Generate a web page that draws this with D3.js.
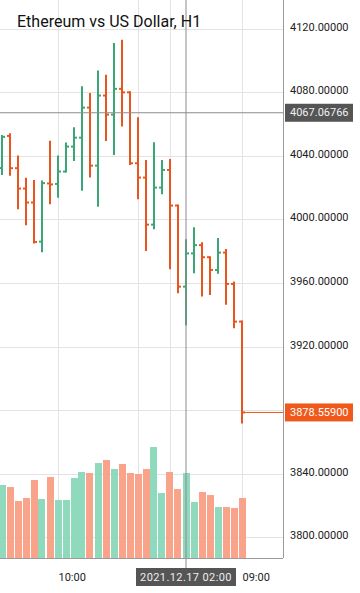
<!DOCTYPE html>
<html><head><meta charset="utf-8">
<script src="https://cdn.jsdelivr.net/npm/d3@7"></script>
<style>
body{margin:0;background:#fff}
svg{display:block}
text{font-family:Roboto,"Noto Sans",sans-serif}
</style>
</head><body>
<svg id="c" width="360" height="593"></svg>
<script>
// ---- data ----
const title = "Ethereum vs US Dollar, H1";
const times = [
 "2021-12-16 03:00","2021-12-16 04:00","2021-12-16 05:00","2021-12-16 06:00","2021-12-16 07:00",
 "2021-12-16 08:00","2021-12-16 09:00","2021-12-16 10:00","2021-12-16 11:00","2021-12-16 12:00",
 "2021-12-16 13:00","2021-12-16 14:00","2021-12-16 15:00","2021-12-16 16:00","2021-12-16 17:00",
 "2021-12-16 18:00","2021-12-16 19:00","2021-12-16 20:00","2021-12-16 21:00","2021-12-16 22:00",
 "2021-12-16 23:00","2021-12-17 00:00","2021-12-17 01:00","2021-12-17 02:00","2021-12-17 03:00",
 "2021-12-17 04:00","2021-12-17 05:00","2021-12-17 06:00","2021-12-17 07:00","2021-12-17 08:00",
 "2021-12-17 09:00"];
const opens  = [4032.4,4052.5,4032.2,4019.4,4010.6,3986.0,4022.6,4022.3,4030.1,4045.8,
                4051.4,4070.3,4033.8,4077.9,4065.9,4082.1,4079.9,4035.3,4026.3,3996.7,
                4020.0,4031.1,4008.7,3957.7,3978.6,3983.8,3976.2,3968.2,3979.1,3959.4,
                3935.7];
const highs  = [4052.5,4053.6,4039.5,4025.5,4024.2,4023.9,4048.9,4039.5,4047.8,4057.4,
                4083.1,4078.9,4093.0,4090.4,4110.4,4112.3,4079.9,4063.6,4036.8,4047.9,
                4036.8,4037.4,4008.7,3986.8,3994.5,3985.0,3976.2,3987.7,3980.8,3960.3,
                3935.7];
const lows   = [4028.6,4028.0,4007.0,3997.0,3985.4,3980.0,4010.2,4014.3,4030.1,4037.4,
                4018.6,4026.9,4008.5,4050.0,4041.2,4059.1,4034.9,4013.3,3980.8,3994.5,
                4016.5,3969.3,3954.2,3934.1,3966.7,3952.1,3953.0,3966.5,3946.9,3932.2,
                3872.2];
const closes = [4051.9,4032.2,4019.4,4010.6,3985.8,4022.8,4022.0,4030.1,4045.8,4051.4,
                4070.3,4033.8,4077.9,4065.9,4082.1,4079.9,4035.3,4026.3,3996.7,4020.0,
                4031.1,4008.7,3957.7,3978.6,3983.8,3976.2,3968.2,3979.1,3959.4,3935.7,
                3878.559];
const volumes = [7300,7100,5700,6000,7800,5900,8100,5800,5800,8000,
                 8600,8500,9500,9800,8900,9400,8500,8400,8900,11100,
                 6500,8600,6900,8500,5600,6600,6300,5100,5100,5000,
                 6000];
const gridPrices = [3800,3840,3880,3920,3960,4000,4040,4080,4120];
const labelPrices = [3800,3840,3920,3960,4000,4040,4080,4120];
const gridTimes = ["2021-12-16 10:00","2021-12-16 20:00","2021-12-17 00:00","2021-12-17 09:00"];
const labelTimes = ["2021-12-16 10:00","2021-12-17 09:00"];
const labelTimeText = ["10:00","09:00"];
const lastPrice = 3878.559;
const crossPrice = 4067.06766;
const crossTime = "2021-12-17 02:00";
const crossTimeLabel = "2021.12.17 02:00";

// ---- layout ----
const W = 360, H = 593, plotR = 283, plotB = 558;
const parse = d3.timeParse("%Y-%m-%d %H:%M");
const bars = times.map((t,i)=>({t:parse(t),o:opens[i],h:highs[i],l:lows[i],c:closes[i],v:volumes[i]}));
const x = d3.scaleTime().domain([bars[0].t, bars[bars.length-1].t]).range([2, 242]);
const y = d3.scaleLinear().domain([3787, 4138]).range([plotB, 0]);
const yv = d3.scaleLinear().domain([0, 10000]).range([plotB, plotB-100]);

const bullC = "#3aa677", bearC = "#e8561f";
const bullV = "#8fd9bc", bearV = "#f9a38b";
const gridC = "#e3e3e3", axisC = "#9a9a9a", crossC = "#8c8c8c";
const fmt = d3.format(".5f");

const svg = d3.select("#c");
svg.append("rect").attr("width",W).attr("height",H).attr("fill","#fff");

svg.append("defs").append("clipPath").attr("id","clip")
  .append("rect").attr("x",0).attr("y",0).attr("width",plotR).attr("height",plotB);

const plot = svg.append("g").attr("clip-path","url(#clip)");

// grid
const gy = plot.append("g").attr("transform",`translate(${plotR},0)`)
  .call(d3.axisLeft(y).tickValues(gridPrices).tickSize(plotR).tickFormat(""));
gy.select(".domain").remove();
gy.selectAll("line").attr("stroke",gridC).attr("shape-rendering","crispEdges");
const gx = plot.append("g").attr("transform",`translate(0,${plotB})`)
  .call(d3.axisTop(x).tickValues(gridTimes.map(parse)).tickSize(plotB).tickFormat(""));
gx.select(".domain").remove();
gx.selectAll("line").attr("stroke",gridC).attr("shape-rendering","crispEdges");

// volume
plot.append("g").selectAll("rect").data(bars).join("rect")
  .attr("x",d=>Math.round(x(d.t)-3.5)).attr("width",7)
  .attr("y",d=>yv(d.v)).attr("height",d=>plotB-yv(d.v))
  .attr("fill",d=>d.c>=d.o?bullV:bearV);

// OHLC bars
const bg = plot.append("g").selectAll("g").data(bars).join("g")
  .attr("stroke",d=>d.c>=d.o?bullC:bearC).attr("stroke-width",2);
bg.append("line").attr("x1",d=>x(d.t)).attr("x2",d=>x(d.t))
  .attr("y1",d=>y(d.h)-1).attr("y2",d=>y(d.l)+1);
bg.append("line").attr("x1",d=>x(d.t)-3).attr("x2",d=>x(d.t))
  .attr("y1",d=>y(d.o)).attr("y2",d=>y(d.o));
bg.append("line").attr("x1",d=>x(d.t)).attr("x2",d=>x(d.t)+3)
  .attr("y1",d=>y(d.c)).attr("y2",d=>y(d.c));

// last price line
const last = bars[bars.length-1];
plot.append("line").attr("x1",x(last.t)).attr("x2",plotR)
  .attr("y1",y(lastPrice)).attr("y2",y(lastPrice))
  .attr("stroke",bearC).attr("stroke-width",1);

// crosshair
plot.append("line").attr("x1",0).attr("x2",plotR).attr("y1",y(crossPrice)).attr("y2",y(crossPrice))
  .attr("stroke",crossC).attr("stroke-width",1);
svg.append("line").attr("x1",x(parse(crossTime))).attr("x2",x(parse(crossTime)))
  .attr("y1",0).attr("y2",568).attr("stroke",crossC).attr("stroke-width",1);

// axes lines
svg.append("line").attr("x1",plotR+0.5).attr("x2",plotR+0.5).attr("y1",0).attr("y2",plotB)
  .attr("stroke",axisC);
svg.append("line").attr("x1",0).attr("x2",plotR).attr("y1",plotB+0.5).attr("y2",plotB+0.5)
  .attr("stroke",axisC);

// price axis labels
const ay = svg.append("g").attr("transform",`translate(${plotR},0)`)
  .call(d3.axisRight(y).tickValues(labelPrices).tickSize(0).tickPadding(7).tickFormat(fmt));
ay.select(".domain").remove();
ay.selectAll("text").attr("font-size",11).attr("fill","#222")
  .attr("font-family","Roboto,sans-serif").attr("dy","0.32em")
  .attr("transform","translate(0,-2)");

// time axis labels
const ax = svg.append("g").attr("transform",`translate(0,${plotB})`)
  .call(d3.axisBottom(x).tickValues(labelTimes.map(parse)).tickSize(0).tickPadding(0)
    .tickFormat((d,i)=>labelTimeText[i]));
ax.select(".domain").remove();
ax.selectAll("text").attr("font-size",11).attr("fill","#222").attr("text-anchor","start")
  .attr("font-family","Roboto,sans-serif").attr("y",19).attr("dy","0.32em");

// price boxes
function priceBox(v, bgc, fg){
  const g = svg.append("g").attr("transform",`translate(${plotR+2},${y(v)})`);
  g.append("rect").attr("x",0).attr("y",-9).attr("width",68).attr("height",18).attr("fill",bgc);
  g.append("text").attr("x",5).attr("y",0).attr("dy","0.32em").attr("font-size",11)
    .attr("fill",fg).text(fmt(v));
}
priceBox(crossPrice, "#555555", "#f0f0f0");
priceBox(lastPrice, "#ef5a1c", "#ffffff");

// time box
const tb = svg.append("g").attr("transform",`translate(${x(parse(crossTime))},577)`);
tb.append("rect").attr("x",-50).attr("y",-9).attr("width",100).attr("height",18).attr("fill","#555555");
tb.append("text").attr("x",0).attr("y",0).attr("dy","0.32em").attr("text-anchor","middle")
  .attr("font-size",11).attr("letter-spacing","0.4px").attr("fill","#eeeeee").text(crossTimeLabel);

// title
svg.append("text").attr("x",17).attr("y",27).attr("font-size",16).attr("fill","#111")
  .text(title);
</script>
</body></html>
